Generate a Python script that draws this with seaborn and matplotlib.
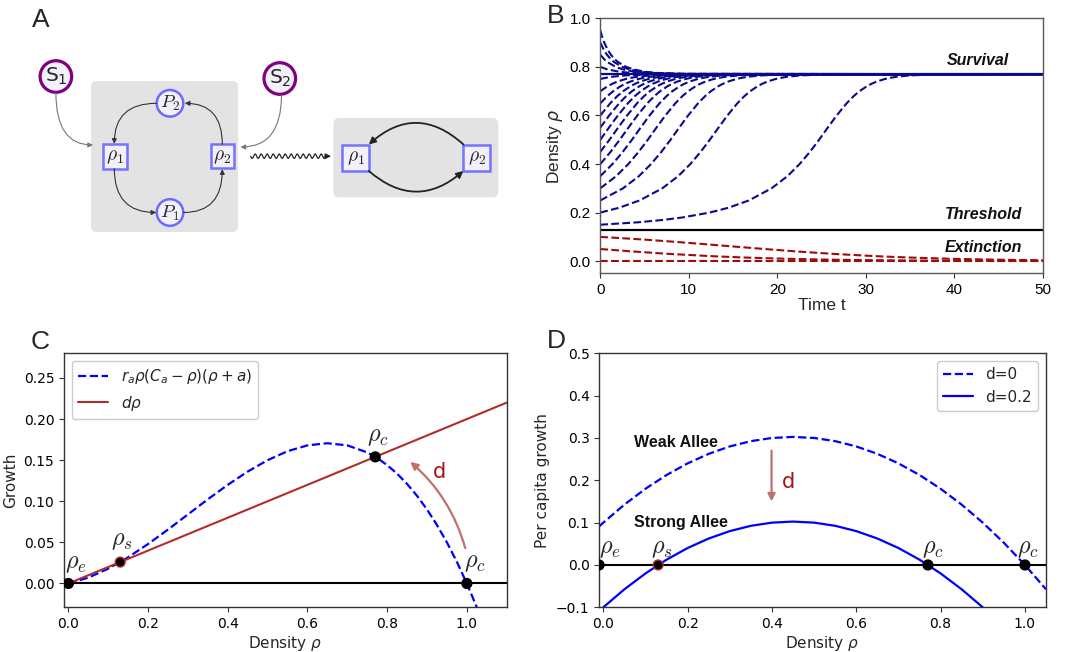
import numpy as np
import pandas as pd
import matplotlib
matplotlib.use('Agg')
import matplotlib.pyplot as plt
import seaborn as sns
from matplotlib.patches import FancyBboxPatch, Circle, Rectangle, FancyArrowPatch

# ---------------- panel B : density trajectories ----------------
# levels shared by the curves that climb to the survival state
rise_levels = [0.15, 0.16, 0.17, 0.18, 0.20, 0.22, 0.25, 0.30, 0.35, 0.40, 0.45, 0.50, 0.55,
               0.60, 0.65, 0.68, 0.70, 0.72, 0.73, 0.74, 0.75, 0.755, 0.76, 0.765, 0.769, 0.77]
# time at which each curve reaches the levels above (curve start -> end of list)
t_rise_015 = [0, 4.26, 7.15, 9.29, 12.35, 14.49, 16.79, 19.36, 21.15, 22.53, 23.69, 24.73, 25.71,
              26.72, 27.84, 28.65, 29.30, 30.12, 30.63, 31.28, 32.16, 32.78, 33.63, 35.07, 38.35, 50]
t_rise_020 = [0, 2.14, 4.44, 7.01, 8.80, 10.18, 11.34, 12.38, 13.36, 14.37, 15.49, 16.30, 16.95,
              17.77, 18.28, 18.93, 19.81, 20.43, 21.28, 22.72, 26.00, 50]
t_rise_025 = [0, 2.57, 4.36, 5.74, 6.90, 7.94, 8.92, 9.93, 11.05, 11.86, 12.51, 13.33, 13.84,
              14.49, 15.37, 15.99, 16.84, 18.28, 21.56, 50]
t_rise_030 = [0, 1.79, 3.17, 4.33, 5.37, 6.35, 7.36, 8.48, 9.29, 9.94, 10.76, 11.27, 11.92,
              12.80, 13.42, 14.27, 15.71, 18.99, 50]
t_rise_035 = [0, 1.38, 2.54, 3.58, 4.56, 5.57, 6.69, 7.50, 8.15, 8.97, 9.48, 10.13, 11.01,
              11.63, 12.48, 13.92, 17.20, 50]
t_rise_040 = [0, 1.16, 2.20, 3.18, 4.19, 5.31, 6.12, 6.77, 7.59, 8.10, 8.75, 9.63, 10.25,
              11.10, 12.54, 15.82, 50]
t_rise_045 = [0, 1.04, 2.02, 3.03, 4.15, 4.96, 5.61, 6.43, 6.94, 7.59, 8.47, 9.09, 9.94,
              11.38, 14.66, 50]
t_rise_050 = [0, 0.98, 1.99, 3.11, 3.92, 4.57, 5.39, 5.90, 6.55, 7.43, 8.05, 8.90, 10.34, 13.62, 50]
t_rise_055 = [0, 1.01, 2.13, 2.94, 3.59, 4.41, 4.92, 5.57, 6.45, 7.07, 7.92, 9.36, 12.64, 50]
t_rise_060 = [0, 1.12, 1.93, 2.58, 3.40, 3.91, 4.56, 5.44, 6.06, 6.91, 8.35, 11.63, 50]
t_rise_065 = [0, 0.81, 1.46, 2.28, 2.79, 3.44, 4.32, 4.94, 5.79, 7.23, 10.51, 50]
t_rise_070 = [0, 0.82, 1.33, 1.98, 2.86, 3.48, 4.33, 5.77, 9.05, 50]
t_rise_075 = [0, 0.62, 1.47, 2.91, 6.19, 50]

# levels shared by the curves that relax down to the survival state
fall_levels = [0.95, 0.92, 0.90, 0.87, 0.85, 0.83, 0.82, 0.80, 0.79, 0.78, 0.775, 0.771, 0.77]
t_fall_095 = [0, 0.244, 0.445, 0.839, 1.194, 1.677, 1.996, 2.925, 3.693, 5.044, 6.421, 9.664, 50]
t_fall_090 = [0, 0.394, 0.749, 1.232, 1.551, 2.48, 3.248, 4.599, 5.976, 9.219, 50]
t_fall_085 = [0, 0.483, 0.802, 1.731, 2.499, 3.85, 5.227, 8.47, 50]
t_fall_080 = [0, 0.768, 2.119, 3.496, 6.739, 50]

# extinction curves
t_ext_010 = [0, 4.48, 8.31, 11.81, 15.17, 18.57, 22.19, 26.30, 31.47, 34.86, 39.41, 43.26, 46.81, 50]
r_ext_010 = [0.10, 0.09, 0.08, 0.07, 0.06, 0.05, 0.04, 0.03, 0.02, 0.015, 0.01, 0.007, 0.005, 0.0038]
t_ext_005 = [0, 3.62, 7.73, 12.90, 16.29, 20.84, 24.69, 28.24, 33.53, 37.68, 44.69, 50]
r_ext_005 = [0.05, 0.04, 0.03, 0.02, 0.015, 0.01, 0.007, 0.005, 0.003, 0.002, 0.001, 0.0007]
t_ext_000 = [0, 50]
r_ext_000 = [0.0, 0.0]

rho_survival = 0.77
rho_threshold = 0.13

# ---------------- panel C : growth curve ----------------
c_rho = [0, .05, .1, .15, .2, .25, .3, .35, .4, .45, .5, .55, .6, .65, .7, .75, .775, .8,
         .825, .85, .875, .9, .925, .95, .975, 1.0, 1.03]
c_growth = [0, .0071, .0180, .0319, .0480, .0656, .0840, .1024, .1200, .1361, .1500, .1609,
            .1680, .1706, .1680, .1594, .1526, .1440, .1335, .1211, .1066, .0900, .0711,
            .0499, .0262, 0, -.0349]
c_line_rho = [0, 1.1]
c_line_growth = [0, 0.22]
c_pts_rho = [0.0, 0.13, 0.77, 1.0]
c_pts_growth = [0.0, 0.026, 0.154, 0.0]

# ---------------- panel D : per capita growth ----------------
d_rho = [-0.01, 0, .05, .1, .15, .2, .25, .3, .35, .4, .45, .5, .55, .6, .65, .7, .75, .8,
         .85, .9, .95, 1.0, 1.05]
d_weak = [0.091, 0.100, 0.1425, 0.180, 0.2125, 0.240, 0.2625, 0.280, 0.2925, 0.300, 0.3025,
          0.300, 0.2925, 0.280, 0.2625, 0.240, 0.2125, 0.180, 0.1425, 0.100, 0.0525, 0.0, -0.0575]
d_strong = [-0.109, -0.100, -0.0575, -0.020, 0.0125, 0.040, 0.0625, 0.080, 0.0925, 0.100,
            0.1025, 0.100, 0.0925, 0.080, 0.0625, 0.040, 0.0125, -0.020, -0.0575, -0.100,
            -0.1475, -0.200, -0.2575]
d_pts_rho = [-0.01, 0.13, 0.77, 1.0]
d_pts_growth = [0.0, 0.0, 0.0, 0.0]

# ---------------- style ----------------
sns.set_style('ticks')
plt.rcParams['font.family'] = ['DejaVu Sans']
plt.rcParams['axes.edgecolor'] = '0.2'
plt.rcParams['axes.linewidth'] = 1.0
plt.rcParams['xtick.color'] = '0.2'
plt.rcParams['ytick.color'] = '0.2'
plt.rcParams['xtick.labelcolor'] = 'black'
plt.rcParams['ytick.labelcolor'] = 'black'

BLUE_B = '#0a0a8c'
RED_B = '#9e0b0b'
ARROW_RED = '#c0716c'
ARIAL = 'Liberation Sans'

W, H = 1075, 652
fig = plt.figure(figsize=(W / 100, H / 100), dpi=100)


def px_axes(x0, y0, x1, y1):
    return fig.add_axes([x0 / W, 1 - y1 / H, (x1 - x0) / W, (y1 - y0) / H])


# ---------------- panel A : schematic ----------------
axA = px_axes(0, 0, 540, 260)
axA.set_xlim(0, 540)
axA.set_ylim(260, 0)
axA.axis('off')

node_fc = '#f1f0fb'
sq_ec = '#7373ff'
axA.add_patch(FancyBboxPatch((91, 81), 147, 151, boxstyle='round,pad=0,rounding_size=6',
                             fc='#e3e3e3', ec='none'))
axA.add_patch(FancyBboxPatch((333.4, 118), 165, 79.3, boxstyle='round,pad=0,rounding_size=6',
                             fc='#e3e3e3', ec='none'))

for cx, cy, lab in [(55.9, 76.5, r'S$_1$'), (279.8, 78.5, r'S$_2$')]:
    axA.add_patch(Circle((cx, cy), 15.8, fc=node_fc, ec='#800080', lw=2.3))
    axA.text(cx, cy, lab, ha='center', va='center', fontsize=14.5)

for cx, cy, lab in [(170, 103.3, r'$P_2$'), (170, 212.5, r'$P_1$')]:
    axA.add_patch(Circle((cx, cy), 13.3, fc=node_fc, ec='#6b6bff', lw=1.8))
    axA.text(cx, cy + 0.5, lab, ha='center', va='center', fontsize=13.5, math_fontfamily='cm')

for x0, y0, s, lab in [(102.7, 144.3, 24.3, r'$\rho_1$'), (210.7, 144.3, 23.5, r'$\rho_2$'),
                       (342.3, 144.5, 26.5, r'$\rho_1$'), (463.3, 144.5, 26.5, r'$\rho_2$')]:
    axA.add_patch(Rectangle((x0, y0), s, s, fc=node_fc, ec=sq_ec, lw=1.8))
    axA.text(x0 + s / 2, y0 + s / 2, lab, ha='center', va='center', fontsize=14,
             math_fontfamily='cm')


def arrow(p0, p1, cs, color='#333333', lw=0.8, ms=7):
    axA.add_patch(FancyArrowPatch(p0, p1, connectionstyle=cs, arrowstyle='-|>',
                                  mutation_scale=ms, color=color, lw=lw,
                                  shrinkA=0, shrinkB=0))


arrow((55.9, 93), (93, 145), 'angle3,angleA=90,angleB=0', color='#777777')
arrow((281.5, 95), (240.5, 147), 'angle3,angleA=90,angleB=0', color='#777777')
arrow((156.5, 103.3), (114.3, 143.8), 'angle3,angleA=0,angleB=90')
arrow((222.3, 144.3), (184.8, 103.3), 'angle3,angleA=90,angleB=0')
arrow((114.3, 168.6), (156.2, 212.5), 'angle3,angleA=90,angleB=0')
arrow((183.5, 212.5), (222.3, 169.2), 'angle3,angleA=0,angleB=90')
arrow((463.5, 144.5), (368.8, 144.5), 'arc3,rad=0.45', color='#222222', lw=1.3, ms=10)
arrow((368.8, 171), (463.3, 171), 'arc3,rad=0.43', color='#222222', lw=1.3, ms=10)

wave_x = np.linspace(250.7, 326, 400)
axA.plot(wave_x, 156.2 + 2.2 * np.sin((wave_x - 250.7) / 6.0 * 2 * np.pi), color='#222222', lw=0.9)
arrow((325, 156.2), (331, 156.2), 'arc3,rad=0', color='#222222', lw=0.9, ms=8)

# ---------------- panel B ----------------
axB = px_axes(600.3, 18.3, 1042.7, 273.3)
rise_times = [t_rise_015, t_rise_020, t_rise_025, t_rise_030, t_rise_035, t_rise_040, t_rise_045,
              t_rise_050, t_rise_055, t_rise_060, t_rise_065, t_rise_070, t_rise_075]
fall_times = [t_fall_095, t_fall_090, t_fall_085, t_fall_080]

axB.axhline(rho_survival, color=BLUE_B, lw=1.6, zorder=1)
axB.axhline(rho_threshold, color='black', lw=1.6, zorder=1)
for ts in rise_times:
    sns.lineplot(x=ts, y=rise_levels[-len(ts):], ax=axB, color=BLUE_B, lw=1.5,
                 linestyle='--', sort=False, zorder=2)
for ts in fall_times:
    sns.lineplot(x=ts, y=fall_levels[-len(ts):], ax=axB, color=BLUE_B, lw=1.5,
                 linestyle='--', sort=False, zorder=2)
for ts, rs in [(t_ext_010, r_ext_010), (t_ext_005, r_ext_005), (t_ext_000, r_ext_000)]:
    sns.lineplot(x=ts, y=rs, ax=axB, color=RED_B, lw=1.5, linestyle='--', sort=False, zorder=2)

axB.set_xlim(0, 50)
axB.set_ylim(-0.05, 1.0)
axB.set_xticks([0, 10, 20, 30, 40, 50])
axB.set_yticks([0.0, 0.2, 0.4, 0.6, 0.8, 1.0])
axB.set_yticklabels(['0.0', '0.2', '0.4', '0.6', '0.8', '1.0'], family=ARIAL, fontsize=11)
axB.set_xticklabels(['0', '10', '20', '30', '40', '50'], family=ARIAL, fontsize=11)
axB.set_xlabel('Time t', family=ARIAL, fontsize=12.5, labelpad=1)
axB.set_ylabel(r'Density $\rho$', family=ARIAL, fontsize=12.5, labelpad=3)
for s in axB.spines.values():
    s.set_color('0.35')
for txt, x, y in [('Survival', 42.7, 0.828), ('Threshold', 43.3, 0.194),
                  ('Extinction', 43.3, 0.056)]:
    axB.text(x, y, txt, style='italic', weight='bold', ha='center', va='center',
             fontsize=11.5, family=ARIAL, color='#111111')

# ---------------- panel C ----------------
axC = px_axes(64, 353.3, 506.7, 607.3)
axC.axhline(0, color='black', lw=1.5, zorder=1)
sns.lineplot(x=c_rho, y=c_growth, ax=axC, color='blue', lw=1.6, linestyle='--', sort=False,
             label=r'$r_a\rho(C_a-\rho)(\rho+a)$', zorder=2)
sns.lineplot(x=c_line_rho, y=c_line_growth, ax=axC, color='#b22c2c', lw=1.5, sort=False,
             label=r'$d\rho$', zorder=2)
sns.scatterplot(x=c_pts_rho, y=c_pts_growth, ax=axC, color='black', s=50, zorder=5,
                edgecolor=['black', '#b22c2c', 'black', 'black'], linewidth=1.0, legend=False)
for lab, x, y in [(r'$\rho_e$', 0.02, 0.025), (r'$\rho_s$', 0.134, 0.053),
                  (r'$\rho_c$', 0.778, 0.179), (r'$\rho_c$', 1.021, 0.026)]:
    axC.text(x, y, lab, ha='center', va='center', fontsize=17.5, math_fontfamily='cm')
axC.add_patch(FancyArrowPatch((0.996, 0.043), (0.858, 0.148), connectionstyle='arc3,rad=0.15',
                              arrowstyle='-|>', mutation_scale=11, color=ARROW_RED, lw=1.6,
                              shrinkA=0, shrinkB=0))
axC.text(0.931, 0.136, 'd', color='#a51515', fontsize=15, ha='center', va='center')
axC.set_xlim(-0.011, 1.1)
axC.set_ylim(-0.029, 0.28)
axC.set_xticks([0.0, 0.2, 0.4, 0.6, 0.8, 1.0])
axC.set_yticks([0.0, 0.05, 0.10, 0.15, 0.20, 0.25])
axC.tick_params(labelsize=10)
axC.set_xlabel(r'Density $\rho$', fontsize=11, labelpad=2)
axC.set_ylabel('Growth', fontsize=11, labelpad=4)
axC.legend(loc='upper left', fontsize=11, frameon=True, framealpha=1, edgecolor='#cccccc',
           fancybox=True, borderaxespad=0.5)

# ---------------- panel D ----------------
axD = px_axes(599.3, 353.3, 1046, 607.3)
axD.axhline(0, color='black', lw=1.5, zorder=1)
dfD = pd.DataFrame({'rho': d_rho, 'd=0': d_weak, 'd=0.2': d_strong})
sns.lineplot(data=dfD, x='rho', y='d=0', ax=axD, color='blue', lw=1.6, linestyle='--',
             label='d=0', zorder=2)
sns.lineplot(data=dfD, x='rho', y='d=0.2', ax=axD, color='blue', lw=1.6, label='d=0.2', zorder=2)
sns.scatterplot(x=d_pts_rho, y=d_pts_growth, ax=axD, color='black', s=50, zorder=5,
                edgecolor=['black', '#b22c2c', 'black', 'black'], linewidth=1.0, legend=False)
for lab, x, y in [(r'$\rho_e$', 0.016, 0.039), (r'$\rho_s$', 0.138, 0.039),
                  (r'$\rho_c$', 0.781, 0.039), (r'$\rho_c$', 1.008, 0.039)]:
    axD.text(x, y, lab, ha='center', va='center', fontsize=17.5, math_fontfamily='cm')
axD.text(0.0735, 0.29, 'Weak Allee', weight='bold', fontsize=11.5, family=ARIAL,
         ha='left', va='center', color='#111111')
axD.text(0.0735, 0.101, 'Strong Allee', weight='bold', fontsize=11.5, family=ARIAL,
         ha='left', va='center', color='#111111')
axD.add_patch(FancyArrowPatch((0.399, 0.27), (0.399, 0.15), arrowstyle='-|>', mutation_scale=11,
                              color=ARROW_RED, lw=1.6, shrinkA=0, shrinkB=0))
axD.text(0.439, 0.195, 'd', color='#a51515', fontsize=15, ha='center', va='center')
axD.set_xlim(-0.0095, 1.05)
axD.set_ylim(-0.1, 0.5)
axD.set_xticks([0.0, 0.2, 0.4, 0.6, 0.8, 1.0])
axD.set_yticks([-0.1, 0.0, 0.1, 0.2, 0.3, 0.4, 0.5])
axD.tick_params(labelsize=10)
axD.set_xlabel(r'Density $\rho$', fontsize=11, labelpad=2)
axD.set_ylabel('Per capita growth', fontsize=11, labelpad=4)
axD.legend(loc='upper right', fontsize=11, frameon=True, framealpha=1, edgecolor='#cccccc',
           fancybox=True, borderaxespad=0.5)

# ---------------- panel letters ----------------
for lab, x, y in [('A', 41, 20), ('B', 556, 15.7), ('C', 40, 341.7), ('D', 556.5, 341)]:
    fig.text(x / W, 1 - y / H, lab, fontsize=19, family=ARIAL, ha='center', va='center')

fig.savefig('out.png', dpi=100)
